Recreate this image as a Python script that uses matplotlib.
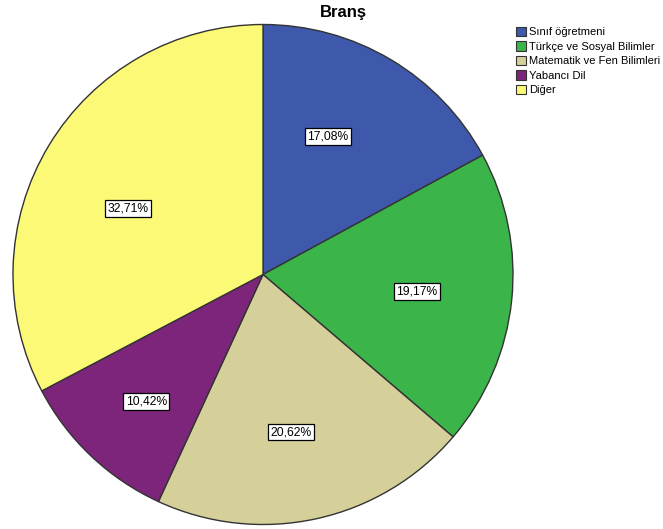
import numpy as np
import matplotlib.pyplot as plt
from matplotlib.patches import Patch

plt.rcParams['font.family'] = ['Liberation Sans', 'DejaVu Sans']

categories = ["Sınıf öğretmeni", "Türkçe ve Sosyal Bilimler",
              "Matematik ve Fen Bilimleri", "Yabancı Dil", "Diğer"]
percents = [17.08, 19.17, 20.62, 10.42, 32.71]
colors = ["#3e58ac", "#3bb54a", "#d5cf9a", "#7d257b", "#fcf977"]

W, H = 663, 529
fig = plt.figure(figsize=(W / 100, H / 100), dpi=100)

# pie centred at (263, 274) px, radius 250 px
cx, cy, r = 263, 274.5, 250
ax = fig.add_axes([(cx - r) / W, (H - cy - r) / H, 2 * r / W, 2 * r / H])

wedges, _ = ax.pie(percents, colors=colors, startangle=90, counterclock=False,
                   radius=1, wedgeprops=dict(edgecolor="#333333", linewidth=1))
ax.set_xlim(-1, 1)
ax.set_ylim(-1, 1)
ax.set_aspect("equal")
ax.axis("off")

# label placement: angle nudge (deg) and radial distance per slice
nudge = [-5.5, 0.3, 2.4, -0.9, -5.1]
dist = [0.61, 0.62, 0.64, 0.69, 0.60]

start = 90.0
for p, dn, d in zip(percents, nudge, dist):
    mid = np.deg2rad(start - p * 3.6 / 2 - dn)
    start -= p * 3.6
    ax.text(d * np.cos(mid), d * np.sin(mid),
            f"{p:.2f}%".replace(".", ","), ha="center", va="center", fontsize=8.7,
            bbox=dict(boxstyle="square,pad=0.2", facecolor="white",
                      edgecolor="black", linewidth=0.9))

fig.text(343 / W, 1 - 13 / H, "Branş", ha="center", va="center",
         fontsize=12, fontweight="bold")

handles = [Patch(facecolor=c, edgecolor="#333333", linewidth=0.8) for c in colors]
fig.legend(handles, categories, loc="upper left",
           bbox_to_anchor=(516 / W, 1 - 27 / H), frameon=False, fontsize=8.0,
           handlelength=0.9, handleheight=0.9, handletextpad=0.3,
           labelspacing=0.36, borderpad=0, borderaxespad=0)

fig.savefig("out.png", dpi=100)
